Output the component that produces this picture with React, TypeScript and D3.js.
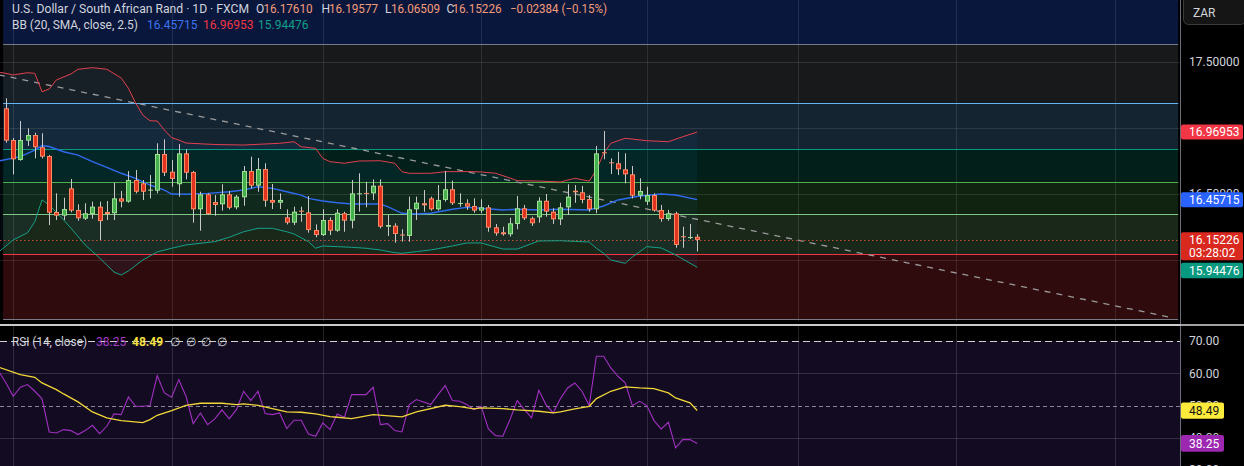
import React from "react";
import * as d3 from "d3";

// ---------- DATA ----------
const opens = [17.149,16.909,16.758,16.904,16.947,16.854,16.788,16.364,16.336,16.543,16.379,16.313,16.348,16.404,16.364,16.354,16.467,16.442,16.606,16.581,16.528,16.525,16.803,16.669,16.574,16.808,16.667,16.384,16.498,16.439,16.422,16.498,16.399,16.475,16.674,16.563,16.689,16.455,16.434,16.323,16.283,16.374,16.361,16.227,16.189,16.303,16.222,16.354,16.298,16.500,16.508,16.505,16.563,16.252,16.260,16.193,16.182,16.384,16.430,16.467,16.384,16.455,16.536,16.427,16.430,16.409,16.374,16.399,16.248,16.210,16.195,16.273,16.392,16.316,16.323,16.449,16.366,16.308,16.399,16.525,16.513,16.462,16.384,16.816,16.740,16.733,16.687,16.649,16.487,16.442,16.492,16.379,16.311,16.354,16.180,16.170,16.17610];
const highs = [17.225,16.924,17.053,16.998,16.964,16.960,16.795,16.505,16.472,16.614,16.422,16.430,16.442,16.442,16.447,16.586,16.523,16.674,16.682,16.606,16.644,16.884,16.914,16.758,16.879,16.839,16.674,16.517,16.505,16.492,16.574,16.523,16.492,16.712,16.783,16.773,16.733,16.576,16.505,16.384,16.404,16.404,16.485,16.270,16.384,16.323,16.384,16.366,16.606,16.657,16.593,16.611,16.611,16.341,16.278,16.233,16.480,16.480,16.530,16.480,16.568,16.674,16.601,16.505,16.460,16.467,16.460,16.417,16.273,16.252,16.320,16.485,16.417,16.328,16.475,16.500,16.392,16.434,16.574,16.568,16.561,16.492,16.864,16.977,16.770,16.820,16.808,16.712,16.619,16.555,16.505,16.417,16.379,16.366,16.252,16.273,16.19577];
const lows = [16.889,16.649,16.752,16.864,16.770,16.770,16.265,16.303,16.303,16.361,16.298,16.303,16.313,16.152,16.303,16.303,16.399,16.434,16.505,16.455,16.467,16.505,16.636,16.555,16.480,16.611,16.283,16.222,16.341,16.336,16.374,16.384,16.384,16.411,16.543,16.517,16.404,16.386,16.386,16.270,16.265,16.290,16.207,16.172,16.182,16.189,16.214,16.214,16.240,16.366,16.399,16.455,16.240,16.182,16.131,16.139,16.139,16.303,16.366,16.374,16.374,16.442,16.417,16.404,16.379,16.358,16.354,16.214,16.184,16.184,16.177,16.233,16.303,16.258,16.283,16.328,16.273,16.265,16.341,16.434,16.430,16.366,16.354,16.763,16.652,16.644,16.581,16.467,16.460,16.417,16.366,16.290,16.298,16.093,16.093,16.159,16.06509];
const closes = [16.904,16.763,16.909,16.947,16.854,16.783,16.358,16.336,16.386,16.374,16.316,16.354,16.404,16.295,16.348,16.467,16.442,16.606,16.517,16.517,16.533,16.803,16.661,16.614,16.808,16.661,16.384,16.498,16.348,16.417,16.498,16.396,16.480,16.674,16.563,16.689,16.449,16.434,16.455,16.283,16.366,16.366,16.227,16.189,16.303,16.222,16.358,16.298,16.505,16.505,16.503,16.563,16.252,16.265,16.197,16.188,16.384,16.434,16.414,16.384,16.455,16.536,16.430,16.432,16.404,16.374,16.399,16.245,16.202,16.195,16.278,16.392,16.316,16.278,16.449,16.366,16.308,16.399,16.480,16.513,16.455,16.384,16.808,16.808,16.735,16.687,16.649,16.487,16.523,16.492,16.374,16.311,16.354,16.114,16.174,16.174,16.15226];

const bbUpper: [number, number][] = [[-1,17.424],[1,17.402],[3,17.419],[4,17.414],[5,17.275],[6,17.295],[7,17.364],[9,17.409],[10,17.445],[12,17.457],[14,17.445],[16,17.379],[17,17.301],[18,17.189],[19,17.098],[20,17.055],[21,17.053],[22,16.985],[23,16.927],[24,16.909],[25,16.886],[29,16.875],[33,16.871],[36,16.879],[38,16.884],[40,16.896],[41,16.858],[43,16.846],[44,16.770],[45,16.745],[47,16.733],[49,16.750],[52,16.752],[54,16.733],[55,16.669],[56,16.657],[59,16.657],[61,16.669],[64,16.670],[66,16.667],[68,16.657],[70,16.621],[71,16.601],[74,16.598],[77,16.591],[79,16.619],[81,16.598],[82,16.682],[83,16.808],[84,16.884],[86,16.922],[89,16.904],[92,16.896],[94,16.934],[96,16.96953]];
const bbBasis: [number, number][] = [[-1,16.750],[2,16.783],[4,16.833],[5,16.867],[6,16.860],[8,16.820],[10,16.795],[12,16.745],[14,16.702],[16,16.657],[18,16.619],[20,16.568],[22,16.530],[23,16.500],[25,16.498],[28,16.505],[31,16.517],[33,16.530],[35,16.555],[37,16.543],[39,16.517],[41,16.492],[42,16.467],[44,16.447],[46,16.434],[48,16.424],[50,16.424],[52,16.424],[53,16.404],[55,16.354],[57,16.348],[59,16.354],[62,16.384],[64,16.399],[66,16.392],[69,16.379],[71,16.384],[74,16.379],[77,16.384],[81,16.379],[83,16.409],[85,16.455],[88,16.485],[91,16.500],[93,16.492],[96,16.45715]];
const bbLower: [number, number][] = [[-1,16.061],[1,16.152],[3,16.207],[4,16.290],[5,16.455],[6,16.417],[8,16.303],[9,16.242],[11,16.114],[13,16.015],[15,15.909],[16,15.886],[17,15.917],[19,16.000],[21,16.061],[23,16.089],[25,16.114],[29,16.139],[31,16.172],[33,16.214],[35,16.240],[37,16.240],[39,16.214],[40,16.197],[42,16.139],[43,16.089],[44,16.106],[46,16.101],[48,16.096],[50,16.089],[52,16.076],[54,16.055],[55,16.051],[57,16.063],[59,16.076],[62,16.106],[64,16.129],[66,16.129],[69,16.083],[71,16.083],[74,16.144],[77,16.146],[81,16.136],[82,16.089],[83,16.051],[84,16.000],[86,15.975],[87,16.023],[89,16.101],[91,16.091],[93,16.038],[96,15.94476]];

const rsiStartBar = -1;
const rsiValues = [60.63,57.02,52.89,55.68,56.50,54.44,52.17,41.85,41.54,42.57,42.26,41.02,42.26,43.91,41.33,43.60,47.42,47.21,52.68,49.79,49.79,50.00,59.29,53.92,52.58,58.05,52.89,44.43,47.73,44.12,45.87,48.66,45.87,48.76,54.44,51.55,54.44,47.52,47.21,47.73,42.88,45.46,45.46,41.23,40.51,44.63,42.57,47.42,46.39,53.41,53.41,53.41,55.68,44.12,44.43,42.26,41.85,50.31,51.86,51.14,50.31,53.41,56.19,51.55,51.34,50.31,48.76,49.79,42.78,40.71,40.51,45.67,51.55,48.76,46.18,54.75,50.31,47.73,52.17,55.47,57.02,54.44,50.00,65.27,65.27,61.66,59.08,57.02,50.00,51.34,50.00,45.36,42.78,44.84,36.89,39.47,39.47,38.25];
const rsiMA: [number, number][] = [[-1,61.87],[2,59.60],[4,58.77],[5,57.02],[7,54.95],[8,53.61],[10,51.14],[12,48.04],[14,46.18],[16,45.36],[19,44.74],[20,45.67],[21,47.01],[23,48.45],[25,50.10],[27,50.72],[30,50.72],[32,50.31],[33,50.52],[35,50.10],[37,49.07],[39,48.04],[41,47.94],[43,47.42],[45,46.59],[46,46.39],[48,45.98],[51,47.21],[55,46.49],[57,48.04],[61,50.10],[63,49.69],[65,48.97],[66,49.28],[69,49.07],[71,48.66],[74,48.25],[76,47.73],[77,48.04],[79,48.97],[81,49.79],[82,52.17],[84,54.44],[86,55.78],[88,55.47],[90,55.26],[92,53.92],[93,52.37],[95,50.83],[96,48.49]];

const fibLow = 15.553;
const fibHigh = 17.636;
const fibStartBar = -0.4;
const fibEndBar = 162.8;
const fibRatios = [0, 0.236, 0.382, 0.5, 0.618, 0.786, 1];
const fibColors = ["#787b86", "#f23645", "#81c784", "#4caf50", "#089981", "#64b5f6", "#787b86"];
const fibExtColor = "#2962ff";

const trendLine: [number, number][] = [[-1, 17.403], [162, 15.563]];

const priceGrid = [17.5, 17.0, 16.5, 16.0];
const priceAxisLabels = [17.5, 16.5];
const rsiGrid = [60, 40];
const rsiDashed = [70, 50];
const rsiAxisLabels = [70, 60, 50, 40, 30];
const gridBars = [1, 23, 44, 66, 89, 110, 132, 154];

const lastClose = 16.15226;
const lastBasis = 16.45715;
const lastUpper = 16.96953;
const lastLower = 15.94476;
const lastRsi = 38.25;
const lastRsiMA = 48.49;
const countdown = "03:28:02";

const titleText = "U.S. Dollar / South African Rand · 1D · FXCM";
const ohlcLetters = ["O", "H", "L", "C"];
const ohlcValues = ["16.17610", "16.19577", "16.06509", "16.15226"];
const changeText = "−0.02384 (−0.15%)";
const bbTitle = "BB (20, SMA, close, 2.5)";
const rsiTitle = "RSI (14, close)";
const currency = "ZAR";

// ---------- CHART ----------
const W = 1244;
const H = 466;
const PLOT_R = 1180;
const FONT = "Roboto, 'Noto Sans', 'Liberation Sans', sans-serif";

export default function App() {
  const x = d3.scaleLinear().domain([0, 96]).range([6, 697.2]);
  const y = d3.scaleLinear().domain([16, 17.5]).range([260, 62]);
  const ry = d3.scaleLinear().domain([30, 70]).range([470.2, 341]);

  const fibPrice = (r: number) => fibLow + r * (fibHigh - fibLow);
  const fx0 = x(fibStartBar);
  const fx1 = x(fibEndBar);

  const pLine = d3.line<[number, number]>().x(d => x(d[0])).y(d => y(d[1]));
  const rLine = d3.line<[number, number]>().x(d => x(d[0])).y(d => ry(d[1]));

  const upperPts = bbUpper.map(d => [x(d[0]), y(d[1])] as [number, number]);
  const lowerPts = bbLower.map(d => [x(d[0]), y(d[1])] as [number, number]).reverse();
  const bbFill = d3.line()([...upperPts, ...lowerPts]) + "Z";

  const rsiPts = rsiValues.map((v, k) => [k + rsiStartBar, v] as [number, number]);

  const fmt5 = d3.format(".5f");
  const fmt2 = d3.format(".2f");

  const textStyle = { fontFamily: FONT, fontSize: 12 } as const;

  return (
    <div style={{ width: W, height: H, background: "#000" }}>
      <style>{"html,body{margin:0;padding:0;background:#000;overflow:hidden}"}</style>
      <svg width={W} height={H} style={{ display: "block" }}>
        <defs>
          <clipPath id="mainClip"><rect x={0} y={0} width={PLOT_R} height={321} /></clipPath>
          <clipPath id="rsiClip"><rect x={0} y={326} width={PLOT_R} height={H - 326} /></clipPath>
        </defs>
        <rect x={0} y={0} width={W} height={H} fill="#000" />

        {/* MAIN PANE */}
        <g clipPath="url(#mainClip)">
          <rect x={fx0} y={-10} width={fx1 - fx0} height={y(fibPrice(1)) + 10} fill={fibExtColor} fillOpacity={0.24} />
          {fibRatios.slice(0, -1).map((r, k) => {
            const yTop = y(fibPrice(fibRatios[k + 1]));
            const yBot = y(fibPrice(r));
            return <rect key={"fz" + k} x={fx0} y={yTop} width={fx1 - fx0} height={yBot - yTop} fill={fibColors[k + 1]} fillOpacity={0.2} />;
          })}
          <path d={bbFill} fill="#2196f3" fillOpacity={0.06} />
          {priceGrid.map(p => (
            <line key={"pg" + p} x1={0} x2={PLOT_R} y1={Math.round(y(p)) + 0.5} y2={Math.round(y(p)) + 0.5} stroke="#ffffff" strokeOpacity={0.1} />
          ))}
          {gridBars.map(b => (
            <line key={"vg" + b} x1={Math.round(x(b)) + 0.5} x2={Math.round(x(b)) + 0.5} y1={0} y2={321} stroke="#ffffff" strokeOpacity={0.1} />
          ))}
          {fibRatios.map((r, k) => (
            <line key={"fl" + k} x1={fx0} x2={fx1} y1={Math.round(y(fibPrice(r))) + 0.5} y2={Math.round(y(fibPrice(r))) + 0.5} stroke={fibColors[k]} strokeWidth={1} />
          ))}
          <path d={pLine(trendLine) || ""} stroke="#9a9a9a" strokeWidth={1.3} strokeDasharray="6 6" fill="none" />
          <line x1={0} x2={PLOT_R} y1={Math.round(y(lastClose)) + 0.5} y2={Math.round(y(lastClose)) + 0.5} stroke="#e0533b" strokeDasharray="1.5 2.5" strokeOpacity={0.85} />
          <path d={pLine(bbUpper) || ""} stroke="#e2404f" strokeWidth={1} fill="none" />
          <path d={pLine(bbLower) || ""} stroke="#17a087" strokeWidth={1} fill="none" />
          <path d={pLine(bbBasis) || ""} stroke="#2f6bf0" strokeWidth={1.4} fill="none" />
          {opens.map((o, i) => {
            const c = closes[i];
            const up = c >= o;
            const cx = Math.round(x(i));
            const yh = y(highs[i]);
            const yl = y(lows[i]);
            const yt = Math.min(y(o), y(c));
            const hb = Math.max(1, Math.abs(y(o) - y(c)));
            const border = up ? "#9fe096" : "#ff8a66";
            const fill = up ? "#45b04c" : "#e0341f";
            return (
              <g key={"c" + i}>
                <rect x={cx} y={yh} width={1} height={yl - yh} fill="#c9c9c9" />
                <rect x={cx - 2} y={yt} width={5} height={hb} fill={border} />
                {hb > 2.5 && <rect x={cx - 1} y={yt + 1} width={3} height={hb - 2} fill={fill} />}
              </g>
            );
          })}
        </g>

        {/* HEADER LEGEND */}
        <g style={textStyle}>
          <text x={12} y={12.7} fill="#d1d4dc" textLength={237} lengthAdjust="spacingAndGlyphs">{titleText}</text>
          {ohlcLetters.map((l, k) => (
            <text key={"ol" + k} x={[256, 321.5, 385, 446.5][k]} y={12.7} fill="#d1d4dc">{l}</text>
          ))}
          {ohlcValues.map((v, k) => (
            <text key={"ov" + k} x={[263.5, 329, 391, 452.5][k]} y={12.7} fill="#f39c7a" textLength={49} lengthAdjust="spacingAndGlyphs">{v}</text>
          ))}
          <text x={510} y={12.7} fill="#f39c7a" textLength={97} lengthAdjust="spacingAndGlyphs">{changeText}</text>
          <text x={12} y={28.5} fill="#d1d4dc" textLength={126} lengthAdjust="spacingAndGlyphs">{bbTitle}</text>
          <text x={147} y={28.5} fill="#3a74f0">{fmt5(lastBasis)}</text>
          <text x={203} y={28.5} fill="#f23645">{fmt5(lastUpper)}</text>
          <text x={258} y={28.5} fill="#12a08a">{fmt5(lastLower)}</text>
        </g>

        <line x1={0} x2={W} y1={325} y2={325} stroke="#d8d8d8" strokeWidth={1.5} />

        {/* RSI PANE */}
        <g clipPath="url(#rsiClip)">
          <rect x={0} y={ry(70)} width={PLOT_R} height={H - ry(70)} fill="#130b22" />
          {rsiGrid.map(v => (
            <line key={"rg" + v} x1={0} x2={PLOT_R} y1={Math.round(ry(v)) + 0.5} y2={Math.round(ry(v)) + 0.5} stroke="#ffffff" strokeOpacity={0.14} />
          ))}
          {gridBars.map(b => (
            <line key={"rvg" + b} x1={Math.round(x(b)) + 0.5} x2={Math.round(x(b)) + 0.5} y1={326} y2={H} stroke="#ffffff" strokeOpacity={0.13} />
          ))}
          <line x1={0} x2={PLOT_R} y1={Math.round(ry(rsiDashed[0])) + 0.5} y2={Math.round(ry(rsiDashed[0])) + 0.5} stroke="#d0d0d0" strokeDasharray="7 4" />
          <line x1={0} x2={PLOT_R} y1={Math.round(ry(rsiDashed[1])) + 0.5} y2={Math.round(ry(rsiDashed[1])) + 0.5} stroke="#8a8593" strokeDasharray="4 3" />
          <path d={rLine(rsiPts) || ""} stroke="#a030c0" strokeWidth={1.1} fill="none" />
          <path d={rLine(rsiMA) || ""} stroke="#f0d63a" strokeWidth={1.3} fill="none" />
        </g>
        <g style={textStyle}>
          <text x={12} y={345.5} fill="#d1d4dc" textLength={75} lengthAdjust="spacingAndGlyphs">{rsiTitle}</text>
          <text x={96} y={345.5} fill="#a33cc0">{fmt2(lastRsi)}</text>
          <text x={132} y={345.5} fill="#f5e040" fontWeight="bold">{fmt2(lastRsiMA)}</text>
          {[170, 186, 201, 217].map(px => (
            <text key={"na" + px} x={px} y={345.5} fill="#d1d4dc">∅</text>
          ))}
        </g>

        {/* RIGHT AXIS */}
        <rect x={PLOT_R} y={0} width={W - PLOT_R} height={H} fill="#000" />
        <line x1={PLOT_R + 0.5} x2={PLOT_R + 0.5} y1={0} y2={H} stroke="#6a6d78" />
        <line x1={0} x2={W} y1={325} y2={325} stroke="#d8d8d8" strokeWidth={1.5} />
        <g style={textStyle}>
          <rect x={1183.5} y={-4.5} width={62} height={29} rx={5} fill="#151515" stroke="#3c3c3c" />
          <text x={1193} y={17} fill="#d1d4dc">{currency}</text>

          {priceAxisLabels.map(p => (
            <text key={"pl" + p} x={1189} y={y(p) + 4.2} fill="#d1d4dc">{fmt5(p)}</text>
          ))}
          <rect x={1181} y={y(lastUpper) - 7.5} width={62} height={15} rx={2} fill="#f23645" />
          <text x={1189} y={y(lastUpper) + 4.2} fill="#fff">{fmt5(lastUpper)}</text>
          <rect x={1181} y={y(lastBasis) - 7.3} width={62} height={15} rx={2} fill="#2962ff" />
          <text x={1189} y={y(lastBasis) + 4.2} fill="#fff">{fmt5(lastBasis)}</text>
          <rect x={1181} y={y(lastClose) - 7.7} width={62} height={28} rx={2} fill="#d9281e" />
          <text x={1189} y={y(lastClose) + 4.2} fill="#fff">{fmt5(lastClose)}</text>
          <text x={1189} y={y(lastClose) + 17.2} fill="#fff">{countdown}</text>
          <rect x={1181} y={262.7} width={62} height={15.6} rx={2} fill="#089981" />
          <text x={1189} y={274.7} fill="#fff">{fmt5(lastLower)}</text>

          {rsiAxisLabels.map(v => (
            <text key={"rl" + v} x={1189} y={ry(v) + 4.2} fill="#d1d4dc">{fmt2(v)}</text>
          ))}
          <rect x={1181} y={ry(lastRsiMA) - 8} width={43} height={16.3} rx={2} fill="#ffeb3b" />
          <text x={1189} y={ry(lastRsiMA) + 4.2} fill="#131313">{fmt2(lastRsiMA)}</text>
          <rect x={1181} y={ry(lastRsi) - 8.5} width={43} height={16.7} rx={2} fill="#9c27b0" />
          <text x={1189} y={ry(lastRsi) + 4.2} fill="#fff">{fmt2(lastRsi)}</text>
        </g>
      </svg>
    </div>
  );
}
